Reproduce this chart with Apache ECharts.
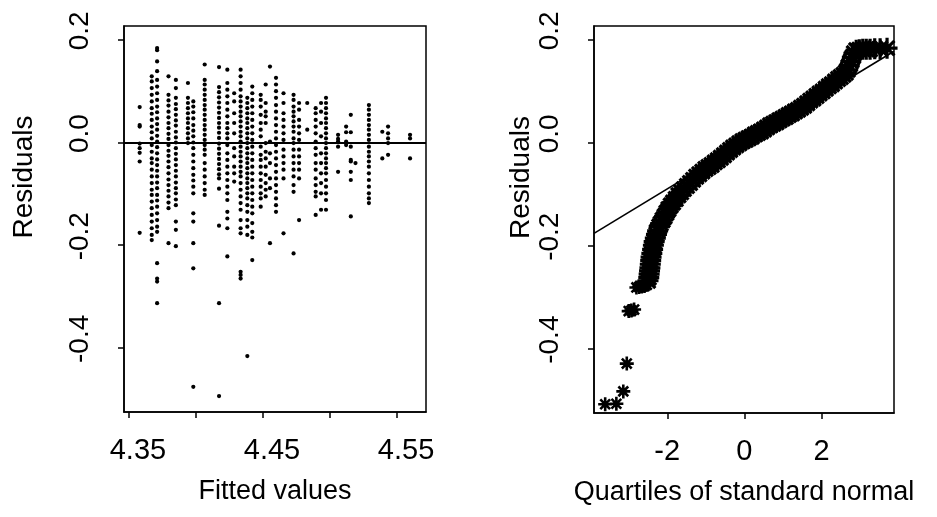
<!DOCTYPE html>
<html><head><meta charset="utf-8">
<script src="https://cdn.jsdelivr.net/npm/echarts@6/dist/echarts.min.js"></script>
<style>html,body{margin:0;padding:0;background:#fff}#c{width:937px;height:517px}</style>
</head><body><div id="c"></div>
<script>
// Left panel: residuals grouped by (discrete) fitted value
const fittedValues = [4.358, 4.367, 4.371, 4.3795, 4.385, 4.394, 4.398, 4.4065, 4.4172, 4.4234, 4.4285, 4.4333, 4.4383, 4.442, 4.4483, 4.452, 4.4552, 4.4597, 4.4653, 4.4728, 4.4769, 4.483, 4.4893, 4.4933, 4.497, 4.506, 4.512, 4.5155, 4.519, 4.529, 4.539, 4.5433, 4.5597];
const residualColumns = [
  [0.069, 0.034, 0.031, -0.002, -0.011, -0.020, -0.037, -0.176],
  [0.129, 0.119, 0.106, 0.093, 0.080, 0.067, 0.056, 0.044, 0.031, 0.020, 0.008, -0.005, -0.018, -0.031, -0.040, -0.053, -0.066, -0.079, -0.092, -0.102, -0.115, -0.128, -0.141, -0.154, -0.167, -0.180, -0.190],
  [0.184, 0.180, 0.158, 0.139, 0.122, 0.109, 0.096, 0.083, 0.070, 0.059, 0.047, 0.036, 0.025, 0.013, 0.002, -0.009, -0.021, -0.033, -0.044, -0.055, -0.066, -0.078, -0.089, -0.102, -0.113, -0.125, -0.138, -0.151, -0.164, -0.174, -0.235, -0.265, -0.271, -0.313],
  [0.129, 0.093, 0.082, 0.072, 0.060, 0.049, 0.038, 0.028, 0.017, 0.007, -0.005, -0.016, -0.026, -0.037, -0.048, -0.060, -0.072, -0.083, -0.094, -0.105, -0.117, -0.128, -0.196],
  [0.122, 0.106, 0.087, 0.075, 0.065, 0.054, 0.043, 0.033, 0.021, 0.010, 0.000, -0.011, -0.022, -0.033, -0.044, -0.055, -0.066, -0.078, -0.089, -0.099, -0.111, -0.122, -0.154, -0.170, -0.202],
  [0.116, 0.087, 0.077, 0.067, 0.057, 0.047, 0.038, 0.028, 0.018, 0.008, -0.001],
  [0.080, 0.070, 0.059, 0.047, 0.034, 0.023, 0.012, 0.000, -0.011, -0.024, -0.037, -0.050, -0.063, -0.074, -0.086, -0.099, -0.138, -0.154, -0.196, -0.245, -0.476],
  [0.152, 0.122, 0.113, 0.103, 0.093, 0.083, 0.073, 0.064, 0.054, 0.044, 0.034, 0.025, 0.015, 0.005, -0.005, -0.014, -0.024, -0.040, -0.053, -0.066, -0.079, -0.092, -0.102],
  [0.147, 0.108, 0.098, 0.088, 0.078, 0.068, 0.058, 0.048, 0.038, 0.029, 0.019, 0.009, -0.002, -0.012, -0.022, -0.032, -0.042, -0.052, -0.062, -0.070, -0.090, -0.162, -0.313, -0.494],
  [0.142, 0.116, 0.103, 0.090, 0.077, 0.064, 0.051, 0.038, 0.028, 0.018, 0.008, -0.005, -0.021, -0.034, -0.047, -0.060, -0.073, -0.086, -0.099, -0.112, -0.135, -0.148, -0.167, -0.222],
  [0.096, 0.080, 0.057, 0.038, 0.018, -0.011, -0.027, -0.047, -0.060, -0.076],
  [0.142, 0.129, 0.116, 0.103, 0.090, 0.080, 0.070, 0.060, 0.051, 0.041, 0.031, 0.021, 0.012, 0.002, -0.008, -0.018, -0.027, -0.037, -0.047, -0.057, -0.066, -0.079, -0.092, -0.105, -0.118, -0.131, -0.151, -0.167, -0.177, -0.252, -0.258, -0.265],
  [0.087, 0.077, 0.067, 0.057, 0.047, 0.038, 0.028, 0.018, 0.008, -0.001, -0.011, -0.021, -0.031, -0.040, -0.050, -0.060, -0.070, -0.079, -0.089, -0.099, -0.109, -0.122, -0.135, -0.151, -0.164, -0.180, -0.416],
  [0.109, 0.096, 0.083, 0.070, 0.057, 0.044, 0.031, 0.018, 0.005, -0.008, -0.021, -0.034, -0.047, -0.060, -0.073, -0.086, -0.099, -0.112, -0.125, -0.138, -0.157, -0.174, -0.185, -0.229],
  [0.093, 0.083, 0.070, 0.054, 0.038, 0.025, 0.012, -0.008, -0.024, -0.034, -0.047, -0.060, -0.073, -0.086, -0.099, -0.109, -0.125],
  [0.113, 0.077, 0.060, 0.051, 0.038, -0.001, -0.018, -0.031, -0.047, -0.063, -0.079, -0.092, -0.105],
  [0.148, 0.002, -0.021, -0.040, -0.070, -0.089, -0.196],
  [0.126, 0.113, 0.100, 0.087, 0.073, 0.060, 0.047, 0.034, 0.021, 0.008, -0.005, -0.018, -0.031, -0.044, -0.057, -0.070, -0.083, -0.096, -0.109, -0.122, -0.135],
  [0.096, 0.077, 0.057, 0.044, 0.031, 0.018, 0.005, -0.014, -0.027, -0.040, -0.053, -0.070, -0.177],
  [0.093, 0.083, 0.070, 0.060, 0.051, 0.041, 0.031, 0.021, 0.008, -0.001, -0.014, -0.027, -0.040, -0.053, -0.066, -0.083, -0.096, -0.216],
  [0.077, 0.064, 0.044, 0.031, 0.018, 0.005, -0.014, -0.027, -0.040, -0.053, -0.070, -0.151],
  [0.077, 0.025],
  [0.067, 0.057, 0.044, 0.031, 0.018, 0.002, -0.011, -0.024, -0.040, -0.053, -0.070, -0.083, -0.096, -0.105, -0.141],
  [0.077, 0.060, 0.038, 0.012, -0.021, -0.040, -0.060, -0.079, -0.099, -0.131],
  [0.087, 0.077, 0.067, 0.057, 0.047, 0.038, 0.028, 0.018, 0.008, -0.001, -0.011, -0.021, -0.031, -0.040, -0.050, -0.060, -0.073, -0.086, -0.099, -0.112, -0.131],
  [0.015, 0.007, 0.002, -0.008, -0.057],
  [0.031, 0.020, 0.002, -0.005],
  [0.054, 0.020, -0.008, -0.034, -0.037, -0.057, -0.073, -0.144],
  [-0.040],
  [0.073, 0.064, 0.054, 0.044, 0.034, 0.025, 0.015, 0.005, -0.008, -0.018, -0.027, -0.037, -0.047, -0.060, -0.073, -0.086, -0.099, -0.109, -0.118],
  [0.021, -0.031],
  [0.031, 0.018, 0.008, -0.001, -0.024],
  [0.015, 0.008, -0.031]
];

// Right panel: normal QQ plot of residuals (lower tail, then main band)
const tailQuartiles = [-3.61, -3.32, -3.14, -3.05, -3.00, -2.93, -2.86, -2.80, -2.73, -2.66, -2.59, -2.53];
const tailResiduals = [-0.508, -0.507, -0.483, -0.429, -0.327, -0.326, -0.324, -0.281, -0.280, -0.279, -0.278, -0.276];
const bandQuartiles = [-2.50, -2.48, -2.47, -2.46, -2.45, -2.44, -2.43, -2.42, -2.40, -2.38, -2.36, -2.34, -2.31, -2.28, -2.25, -2.21, -2.17, -2.12, -2.07, -2.02, -1.97, -1.91, -1.85, -1.78, -1.71, -1.64, -1.57, -1.49, -1.41, -1.33, -1.25, -1.17, -1.09, -1.01, -0.93, -0.85, -0.77, -0.69, -0.61, -0.53, -0.45, -0.37, -0.29, -0.21, -0.13, -0.05, 0.03, 0.11, 0.19, 0.27, 0.35, 0.43, 0.51, 0.59, 0.67, 0.75, 0.83, 0.91, 0.99, 1.07, 1.15, 1.23, 1.31, 1.39, 1.47, 1.55, 1.63, 1.71, 1.79, 1.87, 1.95, 2.03, 2.11, 2.19, 2.27, 2.35, 2.43, 2.50, 2.57, 2.63, 2.68, 2.72, 2.76, 2.80, 2.84, 2.90, 2.98, 3.07, 3.16, 3.26, 3.38, 3.52, 3.70];
const bandResiduals = [-0.268, -0.262, -0.255, -0.249, -0.243, -0.236, -0.229, -0.222, -0.215, -0.207, -0.199, -0.192, -0.185, -0.178, -0.171, -0.163, -0.157, -0.150, -0.143, -0.136, -0.129, -0.122, -0.116, -0.109, -0.102, -0.096, -0.090, -0.084, -0.078, -0.072, -0.066, -0.061, -0.056, -0.051, -0.047, -0.043, -0.038, -0.034, -0.029, -0.024, -0.019, -0.014, -0.009, -0.005, -0.001, 0.003, 0.006, 0.009, 0.012, 0.016, 0.019, 0.022, 0.026, 0.030, 0.034, 0.037, 0.040, 0.044, 0.047, 0.050, 0.054, 0.057, 0.061, 0.064, 0.068, 0.072, 0.077, 0.082, 0.086, 0.091, 0.096, 0.100, 0.105, 0.110, 0.114, 0.119, 0.124, 0.128, 0.132, 0.136, 0.142, 0.150, 0.158, 0.166, 0.174, 0.180, 0.181, 0.182, 0.182, 0.182, 0.183, 0.183, 0.184];
const refLineX = [-3.9, 3.88];
const refLineY = [-0.176, 0.178];

// Axis ticks / labels
const residualTicks = [-0.4, -0.2, 0.0, 0.2];
const fittedTicks = [4.35, 4.40, 4.45, 4.50, 4.55];
const fittedTickLabels = [4.35, 4.45, 4.55];
const quartileTicks = [-2, 0, 2];
const yTitle = 'Residuals';
const xTitleLeft = 'Fitted values';
const xTitleRight = 'Quartiles of standard normal';

const FONT = '"Liberation Sans", Arial, Helvetica, sans-serif';
const scatterPts = [];
fittedValues.forEach((f, i) => residualColumns[i].forEach(r => scatterPts.push([f, r])));
const tailPts = tailQuartiles.map((q, i) => [q, tailResiduals[i]]);
const bandPts = bandQuartiles.map((q, i) => [q, bandResiduals[i]]);
const linePts = refLineX.map((x, i) => [x, refLineY[i]]);

const blk = '#000';
const STAR = 'path://M0,5L10,5M5,0L5,10M1.5,1.5L8.5,8.5M8.5,1.5L1.5,8.5';
function yAxisCfg(gi, nameGap) {
  return {
    type: 'value', gridIndex: gi, min: -0.525, max: 0.227,
    axisLine: {show: true, onZero: false, lineStyle: {color: blk, width: 1.5}},
    axisTick: {show: true, customValues: residualTicks, length: 6, lineStyle: {color: blk, width: 1.5}},
    axisLabel: {customValues: residualTicks, rotate: 90, formatter: v => v.toFixed(1),
      fontSize: 28, color: blk, fontFamily: FONT, margin: 30, padding: [0, 0, 0, 18]},
    splitLine: {show: false},
    name: yTitle, nameLocation: 'middle', nameGap: nameGap,
    nameTextStyle: {fontSize: 28, color: blk, fontFamily: FONT, padding: [0, 0, 0, 84]}
  };
}
const option = {
  animation: false,
  backgroundColor: '#fff',
  grid: [
    {left: 124, top: 26, width: 302, height: 386, show: true, borderColor: blk, borderWidth: 1.5, backgroundColor: 'transparent'},
    {left: 594, top: 26, width: 300, height: 387, show: true, borderColor: blk, borderWidth: 1.5, backgroundColor: 'transparent'}
  ],
  xAxis: [
    {
      type: 'value', gridIndex: 0, min: 4.3463, max: 4.5716,
      axisLine: {show: true, onZero: false, lineStyle: {color: blk, width: 1.5}},
      axisTick: {show: true, customValues: fittedTicks, length: 6, lineStyle: {color: blk, width: 1.5}},
      axisLabel: {customValues: fittedTickLabels, formatter: v => v.toFixed(2), fontSize: 29, color: blk,
        fontFamily: FONT, margin: 24, padding: [0, 0, 0, 18]},
      splitLine: {show: false},
      name: xTitleLeft, nameLocation: 'middle', nameGap: 66,
      nameTextStyle: {fontSize: 27, color: blk, fontFamily: FONT}
    },
    {
      type: 'value', gridIndex: 1, min: -3.9, max: 3.88,
      axisLine: {show: true, onZero: false, lineStyle: {color: blk, width: 1.5}},
      axisTick: {show: true, customValues: quartileTicks, length: 6, lineStyle: {color: blk, width: 1.5}},
      axisLabel: {customValues: quartileTicks, fontSize: 29, color: blk, fontFamily: FONT, margin: 24},
      splitLine: {show: false},
      name: xTitleRight, nameLocation: 'middle', nameGap: 66,
      nameTextStyle: {fontSize: 27, color: blk, fontFamily: FONT}
    }
  ],
  yAxis: [yAxisCfg(0, 86), yAxisCfg(1, 58)],
  series: [
    {
      type: 'scatter', xAxisIndex: 0, yAxisIndex: 0, data: scatterPts,
      symbol: 'circle', symbolSize: 4.2, itemStyle: {color: blk, opacity: 1},
      markLine: {silent: true, symbol: 'none', label: {show: false},
        lineStyle: {color: blk, width: 1.8, type: 'solid'}, data: [{yAxis: 0}]}
    },
    {
      type: 'scatter', xAxisIndex: 1, yAxisIndex: 1, data: tailPts,
      symbol: STAR, symbolSize: 14,
      itemStyle: {color: blk, borderColor: blk, borderWidth: 2.6, opacity: 1}
    },
    {
      type: 'scatter', xAxisIndex: 1, yAxisIndex: 1, data: bandPts,
      symbol: STAR, symbolSize: 21,
      itemStyle: {color: blk, borderColor: blk, borderWidth: 3.2, opacity: 1}
    },
    {
      type: 'line', xAxisIndex: 1, yAxisIndex: 1, data: linePts, symbol: 'none',
      lineStyle: {color: blk, width: 1.6}
    }
  ]
};
const chart = echarts.init(document.getElementById('c'), null, {renderer: 'canvas'});
chart.setOption(option);
</script>
</body></html>
